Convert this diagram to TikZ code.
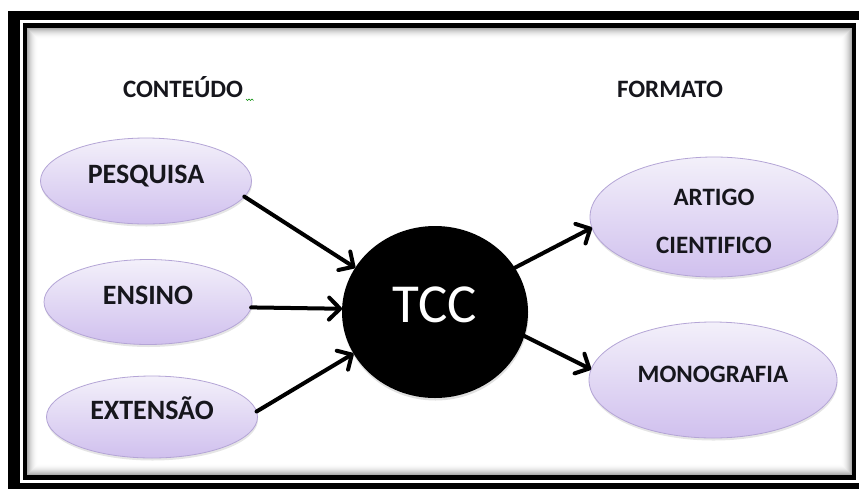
\documentclass[tikz,border=0pt]{standalone}
\usepackage{fontspec}
\setmainfont{Carlito}
\usetikzlibrary{arrows.meta,shapes.geometric,shadows}
\definecolor{lavT}{RGB}{243,240,250}
\definecolor{lavB}{RGB}{208,192,238}
\definecolor{lavD}{RGB}{180,165,214}
\definecolor{txt}{RGB}{22,22,28}
\begin{document}
\begin{tikzpicture}[x=1pt,y=-1pt,
  ell/.style={ellipse, draw=lavD, line width=0.8pt, top color=lavT, bottom color=lavB,
    inner sep=0pt, outer sep=0pt, text=txt,
    drop shadow={shadow xshift=0.5pt, shadow yshift=-2.5pt, opacity=0.1, fill=black}},
  ellL/.style={ell, font=\fontsize{28}{30}\bfseries\selectfont, text height=12pt, text depth=8pt},
  ellR/.style={ell, font=\fontsize{25}{48}\bfseries\selectfont, align=center},
  head/.style={font=\fontsize{25}{30}\bfseries\selectfont, text=txt, text height=16pt, text depth=0pt, inner sep=0pt},
  arr/.style={line width=4pt, line cap=round, -{Straight Barb[length=11pt,width=22pt,round]}}
]
\useasboundingbox (0,0) rectangle (859,488);
\clip (0,0) rectangle (859,488);
% frame
\fill[black] (8,11) rectangle (880,500);
\fill[white] (20,20) rectangle (859,483);
\fill[black] (23,23) rectangle (856,480);
\fill[white] (27,28) rectangle (852,475);
\foreach \i in {0,...,10}{
  \pgfmathsetmacro\op{0.32*(1-\i/11)^2}
  \draw[black, opacity=\op, line width=1pt] (27.5+\i,28.5+\i) rectangle (851.5-\i,474.5-\i);
}
% headers
\node[head] (hc) at (183,89) {CONTEÚDO};
\node[head] (hf) at (670,89) {FORMATO};
\draw[green!55!black, line width=0.5pt] (246,99) -- (247.5,100.5) -- (249,99) -- (250.5,100.5) -- (252,99) -- (253.5,100.5);
% left ellipses
\node[ellL, minimum width=211pt, minimum height=86pt] (p) at (146,181) {PESQUISA};
\node[ellL, minimum width=208pt, minimum height=85pt] (e) at (148,302) {ENSINO};
\node[ellL, minimum width=211pt, minimum height=82pt] (x) at (152,417) {EXTENSÃO};
% right ellipses
\node[ellR, minimum width=248pt, minimum height=120pt, text height=72pt, text depth=0pt] (a) at (714,217) {ARTIGO\\CIENTIFICO};
\node[ellR, minimum width=248pt, minimum height=116pt, text height=10pt, text depth=6pt] (m) at (713,380) {MONOGRAFIA};
% center
\node[ellipse, fill=black, text=white, inner sep=0pt, outer sep=0pt,
  minimum width=186pt, minimum height=172pt,
  font=\fontsize{55}{60}\selectfont, text height=35pt, text depth=14pt,
  drop shadow={shadow xshift=0.5pt, shadow yshift=-2.5pt, opacity=0.12, fill=black}] (t) at (435,312) {TCC};
% connectors
\draw[arr] (p.-9) -- (t.151);
\draw[arr] (e.-3) -- (t.178);
\draw[arr] (x.3) -- (t.207);
\draw[arr] (t.29) -- (a.185);
\draw[arr] (t.-15) -- (m.175);
\end{tikzpicture}
\end{document}
